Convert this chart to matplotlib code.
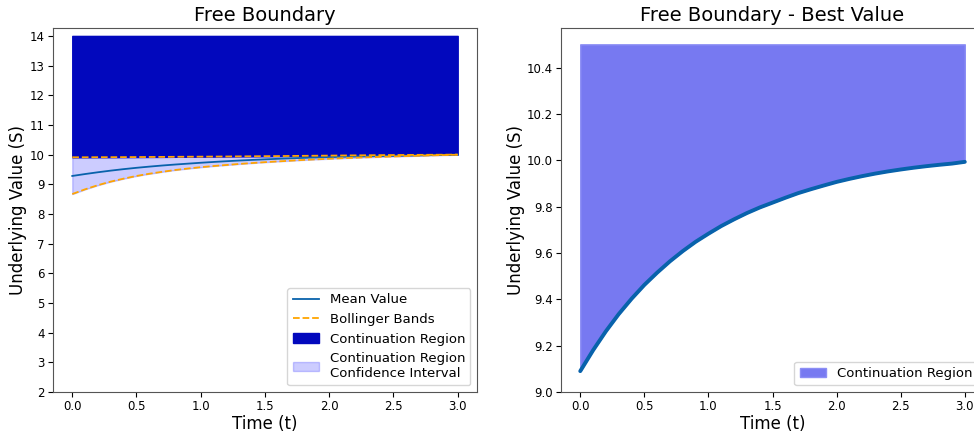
import matplotlib
matplotlib.use("Agg")
import matplotlib.pyplot as plt
import numpy as np

# Data
time_t = [0.0, 0.1, 0.2, 0.3, 0.4, 0.5, 0.6, 0.7, 0.8, 0.9, 1.0,
          1.1, 1.2, 1.3, 1.4, 1.5, 1.6, 1.7, 1.8, 1.9, 2.0,
          2.1, 2.2, 2.3, 2.4, 2.5, 2.6, 2.7, 2.8, 2.9, 3.0]
mean_value = [9.28, 9.345, 9.405, 9.46, 9.51, 9.555, 9.595, 9.632, 9.665, 9.695, 9.725,
              9.752, 9.777, 9.8, 9.821, 9.84, 9.858, 9.874, 9.889, 9.902, 9.914,
              9.925, 9.935, 9.944, 9.952, 9.96, 9.967, 9.974, 9.981, 9.988, 9.996]
lower_band = [8.67, 8.83, 8.97, 9.09, 9.19, 9.28, 9.355, 9.42, 9.48, 9.53, 9.575,
              9.615, 9.65, 9.685, 9.715, 9.745, 9.77, 9.795, 9.82, 9.84, 9.86,
              9.878, 9.894, 9.91, 9.924, 9.937, 9.95, 9.962, 9.974, 9.985, 9.995]
upper_band = [9.91, 9.91, 9.912, 9.913, 9.915, 9.917, 9.92, 9.922, 9.925, 9.928, 9.93,
              9.933, 9.936, 9.94, 9.943, 9.947, 9.95, 9.954, 9.958, 9.962, 9.966,
              9.97, 9.974, 9.978, 9.982, 9.985, 9.988, 9.991, 9.994, 9.997, 10.0]
best_value = [9.09, 9.18, 9.262, 9.336, 9.402, 9.462, 9.515, 9.564, 9.608, 9.648, 9.683,
              9.716, 9.745, 9.772, 9.796, 9.817, 9.838, 9.858, 9.875, 9.891, 9.9065,
              9.9195, 9.9314, 9.9422, 9.9517, 9.96, 9.9676, 9.9743, 9.9802, 9.9855, 9.993]
region_top_left = 14.0
region_top_right = 10.5
ylim_bottom_left = 2.0
ylim_bottom_right = 9.0

fig = plt.figure(figsize=(9.74, 4.34), dpi=100)
ax1 = fig.add_axes([0.0544, 0.0968, 0.4353, 0.8387])
ax2 = fig.add_axes([0.576, 0.0968, 0.4343, 0.8387])

line_color = '#0862ab'

ax1.plot(time_t, mean_value, color=line_color, lw=1.3, label='Mean Value')
ax1.plot(time_t, upper_band, color='orange', ls='--', lw=1.3, label='Bollinger Bands')
ax1.plot(time_t, lower_band, color='orange', ls='--', lw=1.3)
ax1.fill_between(time_t, upper_band, region_top_left, color='#0208BD',
                 label='Continuation Region')
ax1.fill_between(time_t, lower_band, upper_band, color='blue', alpha=0.2,
                 label='Continuation Region\nConfidence Interval')
ax1.set_ylim(bottom=ylim_bottom_left)
ax1.set_yticks(np.arange(2, 15, 1))
ax1.set_title('Free Boundary', fontsize=14, pad=5)
ax1.set_xlabel('Time (t)', fontsize=12, labelpad=1)
ax1.set_ylabel('Underlying Value (S)', fontsize=12, labelpad=2)
ax1.tick_params(labelsize=8.5, pad=2.5)
ax1.legend(loc='lower right', fontsize=9.5)

ax2.fill_between(time_t, best_value, region_top_right, facecolor='#7779F1',
                 edgecolor='#8c8ef5', label='Continuation Region')
ax2.plot(time_t, best_value, color=line_color, lw=2.8, solid_capstyle='round')
ax2.set_ylim(bottom=ylim_bottom_right)
ax2.set_title('Free Boundary - Best Value', fontsize=14, pad=5)
ax2.set_xlabel('Time (t)', fontsize=12, labelpad=1)
ax2.set_ylabel('Underlying Value (S)', fontsize=12, labelpad=1)
ax2.tick_params(labelsize=8.5, pad=2.5)
ax2.legend(loc='lower right', fontsize=9.5)

for ax in (ax1, ax2):
    for s in ax.spines.values():
        s.set_color('#555555')

fig.savefig('out.png', dpi=100)
